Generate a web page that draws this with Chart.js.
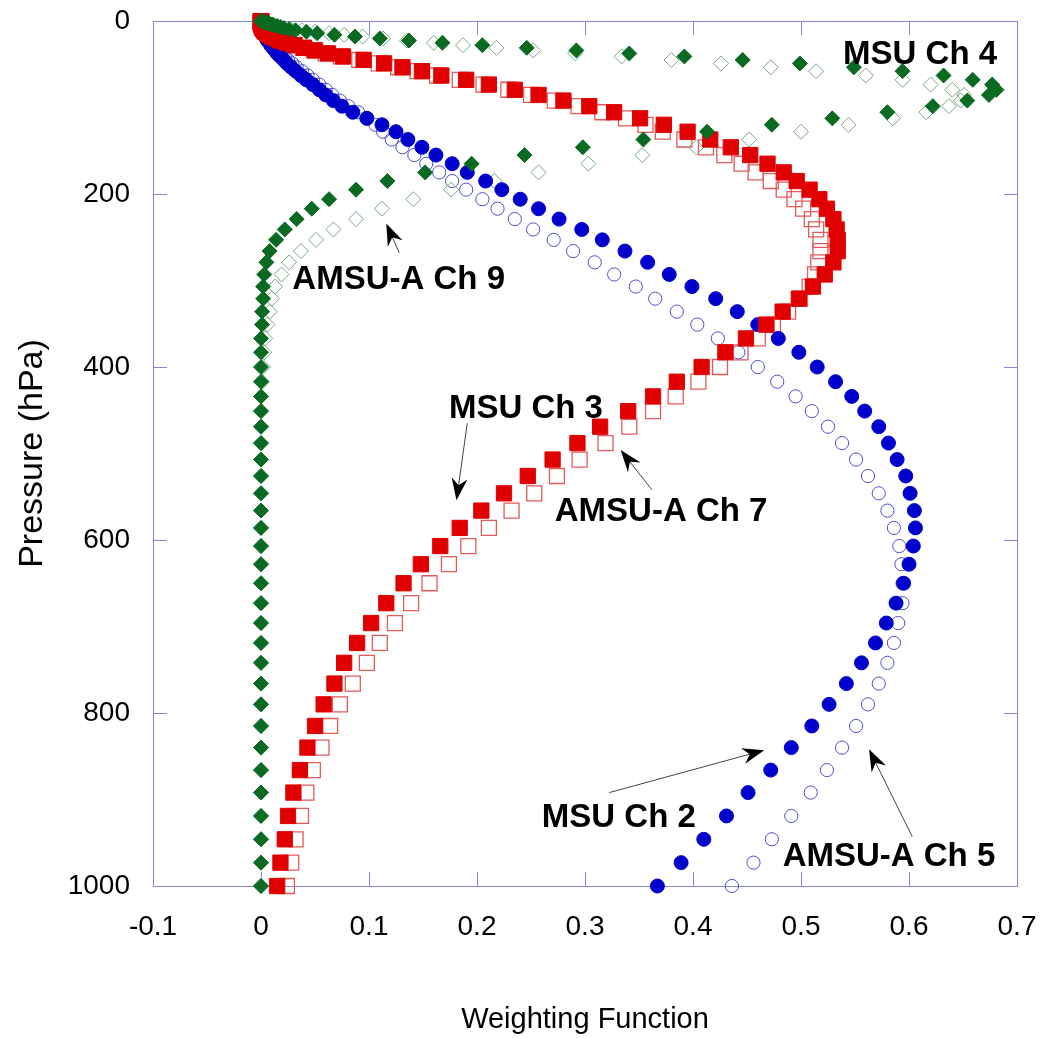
<!DOCTYPE html>
<html>
<head>
<meta charset="utf-8">
<script src="https://cdn.jsdelivr.net/npm/chart.js@4.4.1/dist/chart.umd.min.js"></script>
<style>
  html, body { margin: 0; padding: 0; background: #fff; }
</style>
</head>
<body>
<canvas id="myChart" width="1048" height="1038"></canvas>
<script>
// pressure levels (hPa), shared by every channel
const levels = [
  0.1, 0.25, 0.45, 0.7, 1.0, 1.4, 1.9, 2.5, 3.2, 3.9,
  4.8, 5.8, 6.9, 8.1, 9.4, 10.8, 12.4, 14.1, 16, 18,
  20.2, 22.6, 25.2, 28, 31, 34, 37.5, 41, 45, 49,
  53.5, 58, 63, 68, 73.5, 79.5, 85.5, 92, 98.5, 105.5,
  112.5, 120, 128, 137, 146, 155, 165, 175, 185, 195,
  206, 217, 229, 241, 253, 266, 279, 293, 307, 321,
  336, 351, 367, 383, 400, 417, 434, 451, 469, 488,
  507, 526, 546, 566, 586, 607, 628, 650, 673, 696,
  719, 742, 766, 790, 815, 840, 866, 892, 919, 946,
  973, 1000
];

// weighting functions, one value per level
const msu2 = [
  0, 0, 0, 0, 0, 0.0001, 0.0002, 0.0003, 0.0004, 0.0005,
  0.0006, 0.0008, 0.001, 0.0012, 0.0015, 0.002, 0.0025, 0.003, 0.0035, 0.004,
  0.005, 0.006, 0.008, 0.009, 0.011, 0.013, 0.015, 0.018, 0.021, 0.024,
  0.028, 0.032, 0.037, 0.042, 0.048, 0.054, 0.060, 0.067, 0.075, 0.085,
  0.098, 0.112, 0.125, 0.136, 0.149, 0.162, 0.177, 0.191, 0.208, 0.223,
  0.240, 0.257, 0.276, 0.297, 0.316, 0.337, 0.358, 0.378, 0.399, 0.421,
  0.441, 0.460, 0.479, 0.498, 0.515, 0.532, 0.547, 0.559, 0.572, 0.581,
  0.589, 0.597, 0.601, 0.605, 0.606, 0.604, 0.600, 0.595, 0.588, 0.579,
  0.569, 0.556, 0.542, 0.526, 0.510, 0.491, 0.472, 0.451, 0.431, 0.410,
  0.389, 0.367
];
const amsu5 = [
  0, 0, 0, 0, 0, 0.0002, 0.0003, 0.0004, 0.0005, 0.0006,
  0.0008, 0.001, 0.0012, 0.0015, 0.002, 0.0025, 0.003, 0.0035, 0.004, 0.005,
  0.006, 0.008, 0.009, 0.011, 0.013, 0.016, 0.019, 0.022, 0.025, 0.029,
  0.033, 0.038, 0.043, 0.048, 0.054, 0.060, 0.066, 0.073, 0.081, 0.090,
  0.098, 0.106, 0.113, 0.121, 0.131, 0.142, 0.153, 0.165, 0.177, 0.190,
  0.205, 0.219, 0.235, 0.252, 0.271, 0.289, 0.309, 0.327, 0.347, 0.365,
  0.385, 0.404, 0.423, 0.442, 0.460, 0.478, 0.495, 0.510, 0.525, 0.538,
  0.551, 0.562, 0.572, 0.580, 0.586, 0.591, 0.593, 0.594, 0.594, 0.590,
  0.586, 0.580, 0.572, 0.562, 0.551, 0.538, 0.524, 0.509, 0.491, 0.473,
  0.456, 0.436
];
const msu3 = [
  0, 0, 0, 0, 0, 0, 0, 0, 0, 0.0003,
  0.0005, 0.0008, 0.001, 0.0015, 0.002, 0.003, 0.004, 0.006, 0.008, 0.010,
  0.014, 0.018, 0.024, 0.031, 0.040, 0.050, 0.062, 0.076, 0.095, 0.114,
  0.131, 0.149, 0.167, 0.190, 0.211, 0.235, 0.257, 0.280, 0.304, 0.327,
  0.351, 0.373, 0.395, 0.416, 0.435, 0.453, 0.469, 0.484, 0.496, 0.508,
  0.517, 0.524, 0.530, 0.533, 0.534, 0.534, 0.530, 0.522, 0.511, 0.498,
  0.483, 0.468, 0.449, 0.430, 0.408, 0.385, 0.363, 0.340, 0.314, 0.293,
  0.270, 0.247, 0.225, 0.204, 0.184, 0.166, 0.148, 0.132, 0.116, 0.102,
  0.089, 0.077, 0.068, 0.058, 0.050, 0.043, 0.036, 0.030, 0.025, 0.022,
  0.018, 0.015
];
const amsu7 = [
  0, 0, 0, 0, 0, 0, 0, 0, 0, 0.0003,
  0.0005, 0.0008, 0.001, 0.0015, 0.002, 0.003, 0.004, 0.006, 0.008, 0.010,
  0.014, 0.018, 0.023, 0.030, 0.039, 0.049, 0.060, 0.074, 0.091, 0.109,
  0.127, 0.145, 0.163, 0.184, 0.206, 0.229, 0.250, 0.272, 0.294, 0.316,
  0.338, 0.356, 0.372, 0.392, 0.412, 0.429, 0.445, 0.458, 0.472, 0.484,
  0.494, 0.502, 0.510, 0.514, 0.518, 0.518, 0.516, 0.513, 0.508, 0.499,
  0.488, 0.474, 0.460, 0.444, 0.425, 0.405, 0.384, 0.363, 0.341, 0.319,
  0.295, 0.274, 0.253, 0.232, 0.211, 0.192, 0.174, 0.156, 0.139, 0.124,
  0.110, 0.098, 0.085, 0.073, 0.064, 0.056, 0.048, 0.042, 0.037, 0.032,
  0.028, 0.024
];
const msu4 = [
  0, 0, 0.001, 0.002, 0.003, 0.004, 0.005, 0.006, 0.008, 0.010,
  0.012, 0.015, 0.018, 0.021, 0.026, 0.032, 0.042, 0.052, 0.068, 0.087,
  0.110, 0.137, 0.168, 0.205, 0.246, 0.292, 0.341, 0.392, 0.446, 0.499,
  0.549, 0.594, 0.632, 0.659, 0.677, 0.681, 0.674, 0.654, 0.622, 0.580,
  0.529, 0.473, 0.413, 0.354, 0.298, 0.244, 0.195, 0.152, 0.117, 0.088,
  0.063, 0.047, 0.033, 0.022, 0.014, 0.008, 0.005, 0.003, 0.002, 0.002,
  0.001, 0.001, 0, 0, 0, 0, 0, 0, 0, 0,
  0, 0, 0, 0, 0, 0, 0, 0, 0, 0,
  0, 0, 0, 0, 0, 0, 0, 0, 0, 0,
  0, 0
];
const amsu9 = [
  0, 0, 0.0005, 0.001, 0.0015, 0.002, 0.003, 0.004, 0.005, 0.007,
  0.009, 0.012, 0.016, 0.021, 0.028, 0.038, 0.050, 0.063, 0.077, 0.094,
  0.113, 0.135, 0.160, 0.187, 0.218, 0.252, 0.291, 0.334, 0.380, 0.426,
  0.472, 0.514, 0.560, 0.594, 0.620, 0.640, 0.651, 0.648, 0.637, 0.616,
  0.585, 0.544, 0.500, 0.452, 0.403, 0.353, 0.303, 0.257, 0.216, 0.176,
  0.141, 0.112, 0.088, 0.067, 0.051, 0.037, 0.026, 0.019, 0.013, 0.010,
  0.008, 0.006, 0.004, 0.003, 0.002, 0.001, 0, 0, 0, 0,
  0, 0, 0, 0, 0, 0, 0, 0, 0, 0,
  0, 0, 0, 0, 0, 0, 0, 0, 0, 0,
  0, 0
];

const xTicks = [-0.1, 0, 0.1, 0.2, 0.3, 0.4, 0.5, 0.6, 0.7];
const yTicks = [0, 200, 400, 600, 800, 1000];

// labels and arrows, in data units (weight, hPa)
const noteText = ['MSU Ch 4', 'AMSU-A Ch 9', 'MSU Ch 3', 'AMSU-A Ch 7', 'MSU Ch 2', 'AMSU-A Ch 5'];
const noteX = [0.539, 0.029, 0.174, 0.272, 0.260, 0.483];
const noteP = [39, 299, 449, 567, 921, 966];
const arrowFrom = [[0.128, 268], [0.191, 465], [0.362, 542], [0.3225, 892], [0.603, 943]];
const arrowTo = [[0.116, 234], [0.181, 554], [0.333, 496], [0.466, 843], [0.563, 842]];

const frameColor = '#8585d9';
const axisFont = '"Liberation Sans", Arial, sans-serif';
const noteFont = 'bold 33px "Liberation Sans", Arial, sans-serif';

const pts = vals => vals.map((v, i) => ({ x: v, y: levels[i] }));

// frame with inward ticks on all four sides
const framePlugin = {
  id: 'frame',
  beforeDatasetsDraw(chart) {
    const { ctx, chartArea: a, scales: { x, y } } = chart;
    ctx.save();
    ctx.strokeStyle = frameColor;
    ctx.lineWidth = 1;
    ctx.strokeRect(a.left + 0.5, a.top + 0.5, a.right - a.left, a.bottom - a.top);
    ctx.beginPath();
    xTicks.forEach(t => {
      const px = Math.round(x.getPixelForValue(t)) + 0.5;
      ctx.moveTo(px, a.bottom); ctx.lineTo(px, a.bottom - 14);
      ctx.moveTo(px, a.top); ctx.lineTo(px, a.top + 14);
    });
    yTicks.forEach(t => {
      const py = Math.round(y.getPixelForValue(t)) + 0.5;
      ctx.moveTo(a.left, py); ctx.lineTo(a.left + 14, py);
      ctx.moveTo(a.right, py); ctx.lineTo(a.right - 13, py);
    });
    ctx.stroke();
    ctx.restore();
  },
  afterDatasetsDraw(chart) {
    const { ctx, scales: { x, y } } = chart;
    ctx.save();
    // arrows
    ctx.strokeStyle = '#444';
    ctx.fillStyle = '#000';
    ctx.lineWidth = 1;
    arrowFrom.forEach((f, i) => {
      const x0 = x.getPixelForValue(f[0]), y0 = y.getPixelForValue(f[1]);
      const x1 = x.getPixelForValue(arrowTo[i][0]), y1 = y.getPixelForValue(arrowTo[i][1]);
      const ang = Math.atan2(y1 - y0, x1 - x0);
      ctx.beginPath();
      ctx.moveTo(x0, y0);
      ctx.lineTo(x1 - 10 * Math.cos(ang), y1 - 10 * Math.sin(ang));
      ctx.stroke();
      ctx.save();
      ctx.translate(x1, y1);
      ctx.rotate(ang);
      ctx.beginPath();
      ctx.moveTo(0, 0);
      ctx.lineTo(-22, -8);
      ctx.lineTo(-15, 0);
      ctx.lineTo(-22, 8);
      ctx.closePath();
      ctx.fill();
      ctx.restore();
    });
    // channel labels
    ctx.font = noteFont;
    ctx.fillStyle = '#000';
    ctx.textAlign = 'left';
    ctx.textBaseline = 'middle';
    noteText.forEach((t, i) => {
      ctx.fillText(t, x.getPixelForValue(noteX[i]), y.getPixelForValue(noteP[i]));
    });
    ctx.restore();
  }
};

const ctx = document.getElementById('myChart').getContext('2d');
new Chart(ctx, {
  type: 'scatter',
  data: {
    datasets: [
      { // MSU Ch 4
        data: pts(msu4), order: 0, clip: false,
        pointStyle: 'rectRot', pointRadius: 7.5,
        backgroundColor: '#0b6a22', borderColor: '#0b6a22', borderWidth: 1
      },
      { // MSU Ch 3
        data: pts(msu3), order: 1, clip: false,
        pointStyle: 'rect', pointRadius: 10.8,
        backgroundColor: '#e00000', borderColor: '#e00000', borderWidth: 1
      },
      { // MSU Ch 2
        data: pts(msu2), order: 2, clip: false,
        pointStyle: 'circle', pointRadius: 7,
        backgroundColor: '#0000cc', borderColor: '#0000cc', borderWidth: 1
      },
      { // AMSU-A Ch 9
        data: pts(amsu9), order: 3, clip: false,
        pointStyle: 'rectRot', pointRadius: 7.5,
        backgroundColor: 'rgba(255,255,255,0)', borderColor: '#78a882', borderWidth: 1
      },
      { // AMSU-A Ch 7
        data: pts(amsu7), order: 4, clip: false,
        pointStyle: 'rect', pointRadius: 10.6,
        backgroundColor: 'rgba(255,255,255,0)', borderColor: '#e25a5a', borderWidth: 1.3
      },
      { // AMSU-A Ch 5
        data: pts(amsu5), order: 5, clip: false,
        pointStyle: 'circle', pointRadius: 6.6,
        backgroundColor: 'rgba(255,255,255,0)', borderColor: '#4d4dd2', borderWidth: 1
      }
    ]
  },
  options: {
    responsive: false,
    animation: false,
    events: [],
    layout: {
      padding: { top: 21, right: 31, left: 0, bottom: 0 }
    },
    plugins: {
      legend: { display: false },
      tooltip: { enabled: false }
    },
    scales: {
      x: {
        type: 'linear',
        min: -0.1,
        max: 0.7,
        grid: { display: false, drawTicks: false },
        border: { display: false },
        afterFit: s => { s.height = 152; s.paddingLeft = 0; s.paddingRight = 0; },
        ticks: {
          stepSize: 0.1,
          padding: 24,
          color: '#000',
          font: { family: axisFont, size: 28 },
          callback: v => String(Math.round(v * 10) / 10)
        },
        title: {
          display: true,
          text: 'Weighting Function',
          color: '#000',
          font: { family: axisFont, size: 29 },
          padding: { top: 0, bottom: 1 }
        }
      },
      y: {
        type: 'linear',
        reverse: true,
        min: 0,
        max: 1000,
        grid: { display: false, drawTicks: false },
        border: { display: false },
        afterFit: s => { s.width = 153; s.paddingTop = 0; s.paddingBottom = 0; },
        ticks: {
          stepSize: 200,
          padding: 23,
          color: '#000',
          font: { family: axisFont, size: 28 },
          callback: v => String(v)
        },
        title: {
          display: true,
          text: 'Pressure (hPa)',
          color: '#000',
          font: { family: axisFont, size: 34 },
          padding: { top: 12 }
        }
      }
    }
  },
  plugins: [framePlugin]
});
</script>
</body>
</html>
